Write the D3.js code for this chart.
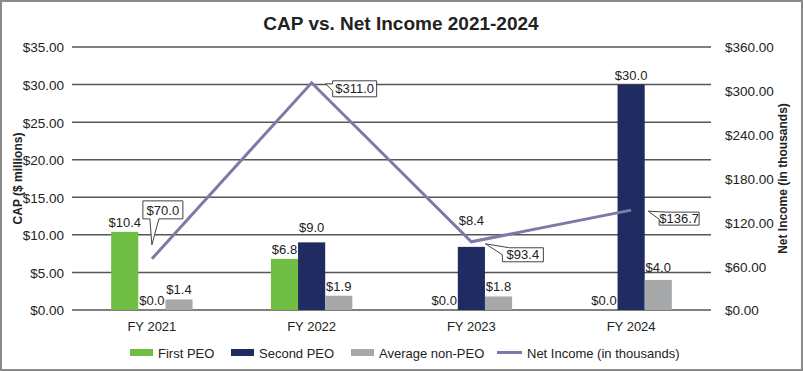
<!DOCTYPE html>
<html>
<head>
<meta charset="utf-8">
<script src="https://cdn.jsdelivr.net/npm/d3@7"></script>
<style>
  body { margin: 0; background: #fff; }
  svg { display: block; font-family: "Liberation Sans", Arial, sans-serif; }
</style>
</head>
<body>
<svg id="chart" width="803" height="371"></svg>
<script>
const years = ["FY 2021", "FY 2022", "FY 2023", "FY 2024"];
const seriesNames = ["First PEO", "Second PEO", "Average non-PEO"];
const firstPeo = [10.4, 6.8, 0.0, 0.0];
const secondPeo = [0.0, 9.0, 8.4, 30.0];
const avgNonPeo = [1.4, 1.9, 1.8, 4.0];
const netIncome = [70.0, 311.0, 93.4, 136.7];
const leftTicks = [0, 5, 10, 15, 20, 25, 30, 35];
const rightTicks = [0, 60, 120, 180, 240, 300, 360];

const colors = { "First PEO": "#70bf44", "Second PEO": "#1f2b61", "Average non-PEO": "#a6a8aa" };
const lineColor = "#7c7aa6";

const width = 803, height = 371;
const margin = { top: 47, right: 92, bottom: 61, left: 72 };
const innerW = width - margin.left - margin.right;
const innerH = height - margin.top - margin.bottom;

const svg = d3.select("#chart");

// frame
svg.append("rect")
    .attr("x", 1).attr("y", 1)
    .attr("width", width - 2).attr("height", height - 2)
    .attr("fill", "#fff").attr("stroke", "#8a8a8a").attr("stroke-width", 2);

svg.append("text")
    .attr("x", 401).attr("y", 30)
    .attr("text-anchor", "middle")
    .style("font-size", "19px").style("font-weight", "bold").attr("fill", "#222")
    .text("CAP vs. Net Income 2021-2024");

const g = svg.append("g").attr("transform", `translate(${margin.left},${margin.top})`);

const x0 = d3.scaleBand().domain(years).range([0, innerW]).paddingInner(0.49).paddingOuter(0.245);
const x1 = d3.scaleBand().domain(seriesNames).range([0, x0.bandwidth()]);
const yL = d3.scaleLinear().domain([0, 35]).range([innerH, 0]);
const yR = d3.scaleLinear().domain([0, 360]).range([innerH, 0]);

// grid lines
g.selectAll(".grid")
    .data(leftTicks)
    .enter()
    .append("line")
    .attr("x1", 0).attr("x2", innerW)
    .attr("y1", d => yL(d)).attr("y2", d => yL(d))
    .attr("stroke", "#555").attr("stroke-width", 1.5);

// left axis
const leftAxis = g.append("g")
    .call(d3.axisLeft(yL).tickValues(leftTicks).tickSize(0).tickPadding(8).tickFormat(d => "$" + d3.format(".2f")(d)));
leftAxis.select(".domain").remove();
leftAxis.selectAll("text").style("font-size", "13.5px").attr("fill", "#222").attr("font-family", null).attr("dy", "0.36em");

// right axis
const rightAxis = g.append("g")
    .attr("transform", `translate(${innerW},0)`)
    .call(d3.axisRight(yR).tickValues(rightTicks).tickSize(0).tickPadding(14).tickFormat(d => "$" + d3.format(".2f")(d)));
rightAxis.select(".domain").remove();
rightAxis.selectAll("text").style("font-size", "13.5px").attr("fill", "#222").attr("font-family", null).attr("dy", "0.36em");

// x axis labels
const xAxis = g.append("g")
    .attr("transform", `translate(0,${innerH})`)
    .call(d3.axisBottom(x0).tickSize(0).tickPadding(12));
xAxis.select(".domain").remove();
xAxis.selectAll("text").style("font-size", "13px").attr("fill", "#222").attr("font-family", null);

// axis titles
svg.append("text")
    .attr("transform", `translate(22,${margin.top + innerH / 2}) rotate(-90)`)
    .attr("text-anchor", "middle")
    .style("font-size", "12px").style("font-weight", "bold").attr("fill", "#222")
    .text("CAP ($ millions)");

svg.append("text")
    .attr("transform", `translate(787,${margin.top + innerH / 2}) rotate(-90)`)
    .attr("text-anchor", "middle")
    .style("font-size", "12px").style("font-weight", "bold").attr("fill", "#222")
    .text("Net Income (in thousands)");

// bars
const barData = years.map((year, i) => ({
    year,
    values: [
        { key: "First PEO", value: firstPeo[i] },
        { key: "Second PEO", value: secondPeo[i] },
        { key: "Average non-PEO", value: avgNonPeo[i] }
    ]
}));

// a few labels were lifted clear of the line in the original
const labelNudge = { "FY 2022|Second PEO": -5, "FY 2023|Second PEO": -17, "FY 2024|Average non-PEO": -3 };

const groups = g.selectAll(".year")
    .data(barData)
    .enter()
    .append("g")
    .attr("transform", d => `translate(${x0(d.year)},0)`);

groups.selectAll("rect")
    .data(d => d.values)
    .enter()
    .append("rect")
    .attr("x", d => x1(d.key))
    .attr("y", d => yL(d.value))
    .attr("width", x1.bandwidth())
    .attr("height", d => innerH - yL(d.value))
    .attr("fill", d => colors[d.key]);

groups.selectAll(".bar-label")
    .data(d => d.values.map(v => ({ ...v, year: d.year })))
    .enter()
    .append("text")
    .attr("class", "bar-label")
    .attr("x", d => x1(d.key) + x1.bandwidth() / 2)
    .attr("y", d => yL(d.value) - 5 + (labelNudge[d.year + "|" + d.key] || 0))
    .attr("text-anchor", "middle")
    .style("font-size", "13px").attr("fill", "#222")
    .text(d => "$" + d.value.toFixed(1));

// net income line
const linePoints = years.map((year, i) => ({ year, value: netIncome[i] }));
const line = d3.line()
    .x(d => x0(d.year) + x0.bandwidth() / 2)
    .y(d => yR(d.value));

g.append("path")
    .datum(linePoints)
    .attr("fill", "none")
    .attr("stroke", lineColor)
    .attr("stroke-width", 3)
    .attr("d", line);

// callout boxes for the line values
const callouts = [
    { dx: -9, dy: -58, w: 40, h: 18, side: "bottom", tip: [0, -14] },
    { dx: 21, dy: -2, w: 44, h: 16, side: "left", tip: [14, 1] },
    { dx: 31, dy: 6, w: 41, h: 14, side: "topleft", tip: [14, 2] },
    { dx: 28, dy: 2, w: 40, h: 13, side: "topleft", tip: [17, 1] }
];

linePoints.forEach((d, i) => {
    const c = callouts[i];
    const px = x0(d.year) + x0.bandwidth() / 2, py = yR(d.value);
    const bx = px + c.dx, by = py + c.dy, bx2 = bx + c.w, by2 = by + c.h;
    const tx = px + c.tip[0], ty = py + c.tip[1];
    let p;
    if (c.side === "bottom") {
        p = `M${bx},${by}H${bx2}V${by2}H${tx + 7}L${tx},${ty}L${tx - 2},${by2}H${bx}Z`;
    } else if (c.side === "left") {
        p = `M${bx},${by}H${bx2}V${by2}H${bx}V${by + 10}L${tx},${ty}L${bx},${by + 3}Z`;
    } else {
        p = `M${bx + 7},${by}H${bx2}V${by2}H${bx}V${by + 7}L${tx},${ty}Z`;
    }
    g.append("path")
        .attr("d", p)
        .attr("fill", "#fff").attr("stroke", "#444").attr("stroke-width", 1);
    g.append("text")
        .attr("x", (bx + bx2) / 2).attr("y", by + c.h / 2)
        .attr("dy", "0.36em")
        .attr("text-anchor", "middle")
        .style("font-size", "13px").attr("fill", "#222")
        .text("$" + d.value.toFixed(1));
});

// legend
const legendItems = [
    { name: "First PEO", x: 130, type: "bar" },
    { name: "Second PEO", x: 231, type: "bar" },
    { name: "Average non-PEO", x: 351, type: "bar" },
    { name: "Net Income (in thousands)", x: 497, type: "line" }
];
const legend = svg.append("g");
legendItems.forEach(item => {
    if (item.type === "bar") {
        legend.append("rect")
            .attr("x", item.x).attr("y", 349)
            .attr("width", 23).attr("height", 7)
            .attr("fill", colors[item.name]);
    } else {
        legend.append("line")
            .attr("x1", item.x).attr("x2", item.x + 25)
            .attr("y1", 352.5).attr("y2", 352.5)
            .attr("stroke", lineColor).attr("stroke-width", 3);
    }
    legend.append("text")
        .attr("x", item.x + (item.type === "bar" ? 28 : 30)).attr("y", 357.5)
        .style("font-size", "13px").attr("fill", "#222")
        .text(item.name);
});
</script>
</body>
</html>
